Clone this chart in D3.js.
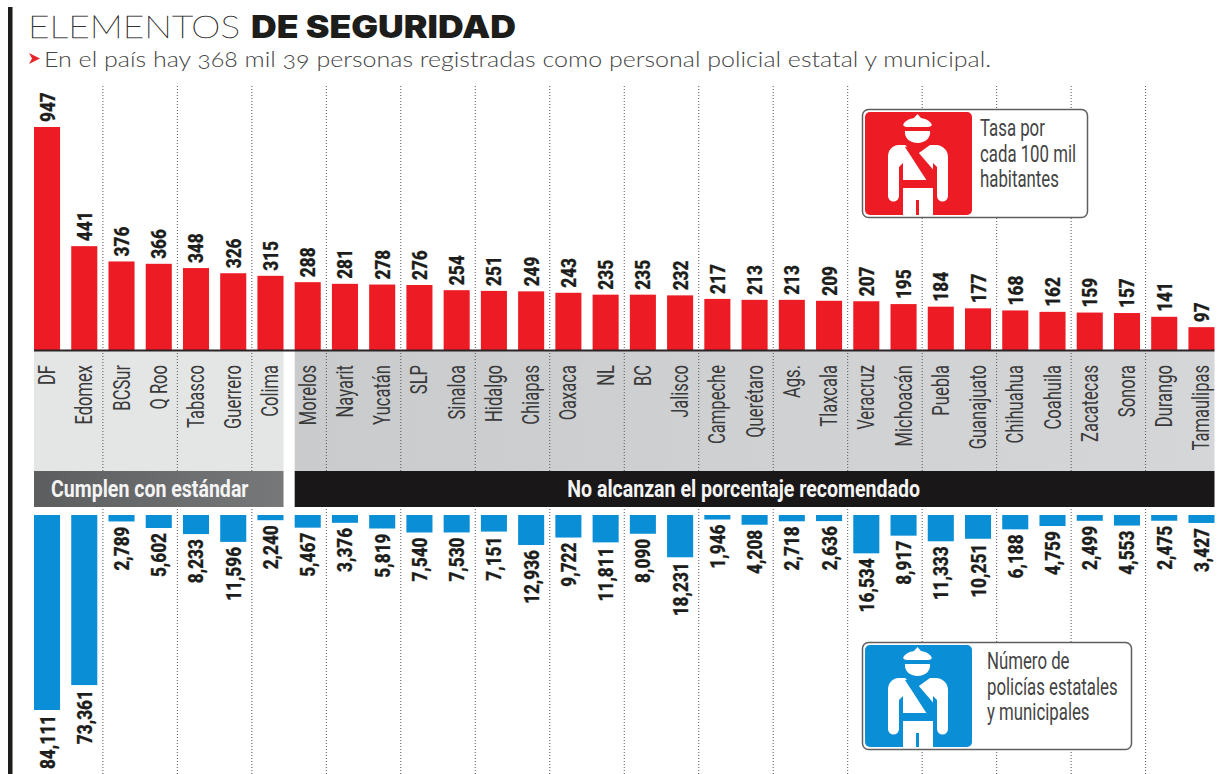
<!DOCTYPE html>
<html><head><meta charset="utf-8">
<script src="https://cdnjs.cloudflare.com/ajax/libs/d3/7.8.5/d3.min.js"></script>
<style>html,body{margin:0;padding:0;background:#fff;overflow:hidden}svg{display:block}</style>
</head><body><svg id="c" width="1225" height="774"></svg>
<script>
const states=["DF","Edomex","BCSur","Q Roo","Tabasco","Guerrero","Colima","Morelos","Nayarit","Yucatán","SLP","Sinaloa","Hidalgo","Chiapas","Oaxaca","NL","BC","Jalisco","Campeche","Querétaro","Ags.","Tlaxcala","Veracruz","Michoacán","Puebla","Guanajuato","Chihuahua","Coahuila","Zacatecas","Sonora","Durango","Tamaulipas"];
const rates=[947,441,376,366,348,326,315,288,281,278,276,254,251,249,243,235,235,232,217,213,213,209,207,195,184,177,168,162,159,157,141,97];
const officers=[84111,73361,2789,5602,8233,11596,2240,5467,3376,5819,7540,7530,7151,12936,9722,11811,8090,18231,1946,4208,2718,2636,16534,8917,11333,10251,6188,4759,2499,4553,2475,3427];
const titleLight="ELEMENTOS", titleBold="DE SEGURIDAD";
const subtitle="En el país hay 368 mil 39 personas registradas como personal policial estatal y municipal.";
const groupA="Cumplen con estándar", groupB="No alcanzan el porcentaje recomendado";
const legendRate=["Tasa por","cada 100 mil","habitantes"];
const legendCount=["Número de","policías estatales","y municipales"];

const NARROW='Roboto,"Liberation Sans",sans-serif';
const svg=d3.select("#c");
const x=d3.scaleBand().domain(states).range([34,1214.5]).paddingInner(0.3).paddingOuter(0);
const yR=d3.scaleLinear().domain([0,947]).range([350,127]);
const yB=d3.scaleLinear().domain([0,84111]).range([515,710]);

const defs=svg.append("defs");
const g2=defs.append("linearGradient").attr("id","pB");
[[0,"#c9cbcd"],[1,"#d5d6d8"]].forEach(d=>g2.append("stop").attr("offset",d[0]).attr("stop-color",d[1]));
const g1=defs.append("linearGradient").attr("id","bandA");
[[0,"#5c5d5f"],[1,"#77787a"]].forEach(d=>g1.append("stop").attr("offset",d[0]).attr("stop-color",d[1]));

// left rule
svg.append("rect").attr("x",8).attr("y",7).attr("width",4.5).attr("height",767).attr("fill","#1d1d1b");

// title
svg.append("text").attr("x",28).attr("y",38).attr("font-size",32).attr("fill","#222").attr("stroke","#333").attr("stroke-width",0.45)
 .attr("font-family","Lato").attr("font-weight",100).attr("textLength",212).attr("lengthAdjust","spacingAndGlyphs").text(titleLight);
svg.append("text").attr("x",251).attr("y",38).attr("font-size",31).attr("fill","#1d1d1b")
 .attr("font-family","Inter").attr("font-weight",900).attr("textLength",265).attr("lengthAdjust","spacingAndGlyphs").text(titleBold);
svg.append("path").attr("d","M29 53L40 58.5L29 64L32 58.5Z").attr("fill","#e8262a");
svg.append("text").attr("x",44).attr("y",67).attr("font-family","Lato").attr("font-weight",300).attr("font-size",21.5).attr("fill","#444")
 .style("font-variant-numeric","oldstyle-nums").attr("textLength",947).attr("lengthAdjust","spacingAndGlyphs").text(subtitle);

// panels
const split=x("Morelos");
svg.append("rect").attr("x",34).attr("y",351).attr("width",x("Colima")+x.bandwidth()-34).attr("height",120).attr("fill","#e4e6e6");
svg.append("rect").attr("x",split).attr("y",351).attr("width",1214.5-split).attr("height",120).attr("fill","url(#pB)");

// dotted separators
const seps=states.filter((d,i)=>i%2===1&&i<states.length-1);
svg.append("g").selectAll("line").data(seps).join("line")
 .attr("x1",d=>x(d)+x.bandwidth()+x.step()*x.paddingInner()/2).attr("x2",d=>x(d)+x.bandwidth()+x.step()*x.paddingInner()/2)
 .attr("y1",86).attr("y2",774).attr("stroke","#555").attr("stroke-width",1).attr("stroke-dasharray","1 2");

// bars
svg.append("g").selectAll("rect").data(states).join("rect")
 .attr("x",d=>x(d)).attr("width",x.bandwidth())
 .attr("y",(d,i)=>yR(rates[i])).attr("height",(d,i)=>yR(0)-yR(rates[i])).attr("fill","#ed1c24");
svg.append("rect").attr("x",34).attr("y",349.5).attr("width",1180.5).attr("height",2).attr("fill","#2a2326");
svg.append("g").selectAll("rect").data(states).join("rect")
 .attr("x",d=>x(d)).attr("width",x.bandwidth())
 .attr("y",yB(0)).attr("height",(d,i)=>yB(officers[i])-yB(0)).attr("fill","#0a8fd6");

const rot=(px,py)=>`translate(${px},${py}) rotate(-90) scale(.82,1)`;
const numStyle=s=>s.attr("font-family",NARROW).attr("font-weight",800).attr("font-size",21).attr("fill","#1d1d1b").attr("stroke","#1d1d1b").attr("stroke-width",0.3);
numStyle(svg.append("g").selectAll("text").data(states).join("text")
 .attr("transform",(d,i)=>rot(x(d)+x.bandwidth()/2+7.5,yR(rates[i])-5)).attr("text-anchor","start").text((d,i)=>rates[i]));
numStyle(svg.append("g").selectAll("text").data(states).join("text")
 .attr("transform",(d,i)=>rot(x(d)+x.bandwidth()/2+7.5,yB(officers[i])+5)).attr("text-anchor","end").text((d,i)=>d3.format(",")(officers[i])));

// category labels through an axis
const ax=svg.append("g").attr("transform","translate(0,351)").call(d3.axisBottom(x).tickSize(0).tickPadding(0));
ax.select(".domain").remove();
ax.selectAll("text").attr("font-family",NARROW).attr("font-size",23).attr("fill","#3a3a3a")
 .attr("text-anchor","end").attr("dy",null).attr("y",0).attr("transform","translate(8,14) rotate(-90) scale(.72,1)");

// group bands
const band=(x0,x1,fill,label,shift)=>{
 svg.append("rect").attr("x",x0).attr("y",471).attr("width",x1-x0).attr("height",36).attr("fill",fill);
 svg.append("text").attr("transform",`translate(${(x0+x1)/2+shift},497) scale(.815,1)`).attr("text-anchor","middle").attr("font-family",NARROW).attr("font-weight",700).attr("font-size",24).attr("fill","#f4f4f4").text(label);
};
band(34,x("Colima")+x.bandwidth(),"url(#bandA)",groupA,-9);
band(split,1214.5,"#1a1718",groupB,-11);

// legends
function legend(bx,by,w,h,color,lines,tx,ty){
 const l=svg.append("g").attr("transform",`translate(${bx},${by})`);
 l.append("rect").attr("x",.5).attr("y",.5).attr("width",w).attr("height",h).attr("rx",6).attr("fill","#fff").attr("stroke","#5f5f5f").attr("stroke-width",1.5);
 l.append("rect").attr("x",3).attr("y",3).attr("width",107).attr("height",h-5).attr("rx",5).attr("fill",color);
 // officer pictogram
 const p=l.append("g").attr("fill","#fff");
 p.append("path").attr("d","M55.5 5L59 9C65 10 69 13 70 16C69 17 68 18 66 18H45C43 18 42 17 41 16C42 13 46 10 52 9Z");
 p.append("path").attr("d","M43 22H68C69 29 63 34 55.5 34S42 29 43 22Z");
 p.append("path").attr("d","M36 36H43L55.5 45L68 36H75C82 37 86 42 86 48V87A5.5 5.5 0 0 1 75 87V58L71 54V106H57V91H54V106H41V54L37 58V87A5.5 5.5 0 0 1 26 87V48C26 42 29 37 36 36Z");
 l.append("path").attr("d","M43 38L50 36L74 64V72L65 72Z").attr("fill",color);
 l.append("rect").attr("x",37).attr("y",71).attr("width",38).attr("height",8).attr("fill",color);
 l.selectAll(".t").data(lines).join("text").attr("class","t").attr("transform",(d,i)=>`translate(${tx},${ty+i*25.5}) scale(.7,1)`)
  .attr("font-family",NARROW).attr("font-size",24).attr("fill","#444").text(d=>d);
}
legend(862,109,225,108,"#ed1c24",legendRate,118,27);
legend(862,642,269,107,"#0a8fd6",legendCount,125,27);
</script></body></html>
